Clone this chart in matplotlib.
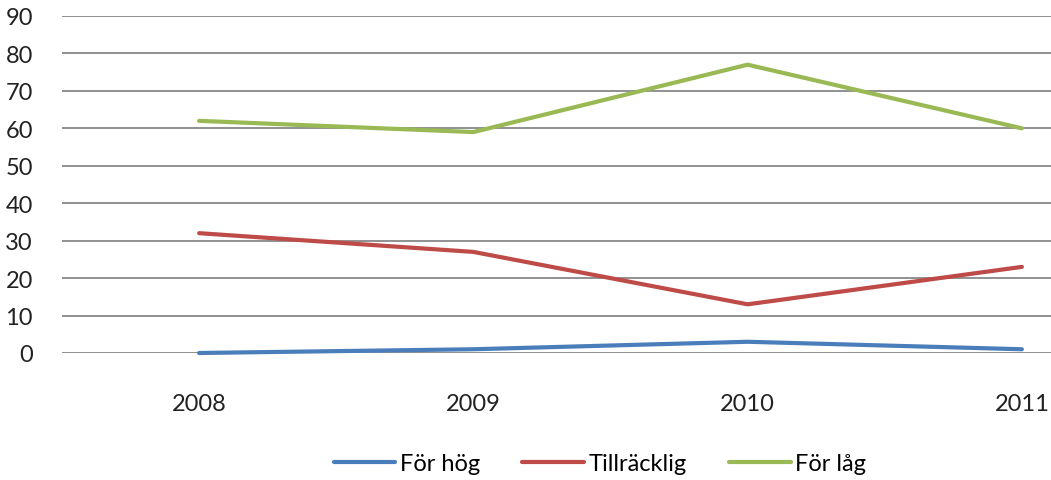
import matplotlib
matplotlib.use("Agg")
import matplotlib.pyplot as plt

years = ["2008", "2009", "2010", "2011"]
for_hog = [0, 1, 3, 1]
tillracklig = [32, 27, 13, 23]
for_lag = [62, 59, 77, 60]

plt.rcParams['font.family'] = ['Lato', 'DejaVu Sans']
plt.rcParams['font.size'] = 17

fig = plt.figure(figsize=(10.51, 4.81), dpi=100)
# plot area runs past the right edge, as in the cropped original
ax = fig.add_axes([62/1051, 1 - 354/481, 1097/1051, 337/481])

x = range(len(years))
ax.plot(x, for_hog, color="#4A7EBB", lw=3, label="För hög", solid_capstyle="round", clip_on=False)
ax.plot(x, tillracklig, color="#BE4B48", lw=3, label="Tillräcklig", solid_capstyle="round")
ax.plot(x, for_lag, color="#98B954", lw=3, label="För låg", solid_capstyle="round")

ax.set_xlim(-0.5, 3.5)
ax.set_ylim(0, 90)
ax.set_yticks(range(0, 91, 10))
ax.set_xticks(list(x))
ax.set_xticklabels(years)
ax.grid(axis="y", color="#888888", lw=1.3)
ax.set_axisbelow(True)
for s in ax.spines.values():
    s.set_visible(False)
ax.tick_params(length=0, colors="#222222")
ax.tick_params(axis="y", pad=21)
ax.tick_params(axis="x", pad=29)

fig.legend(loc="center", bbox_to_anchor=(600/1051, 1 - 465/481), ncol=3,
           frameon=False, handlelength=2.6, handletextpad=0.2, columnspacing=1.8,
           borderaxespad=0)

fig.savefig("out.png", dpi=100)
